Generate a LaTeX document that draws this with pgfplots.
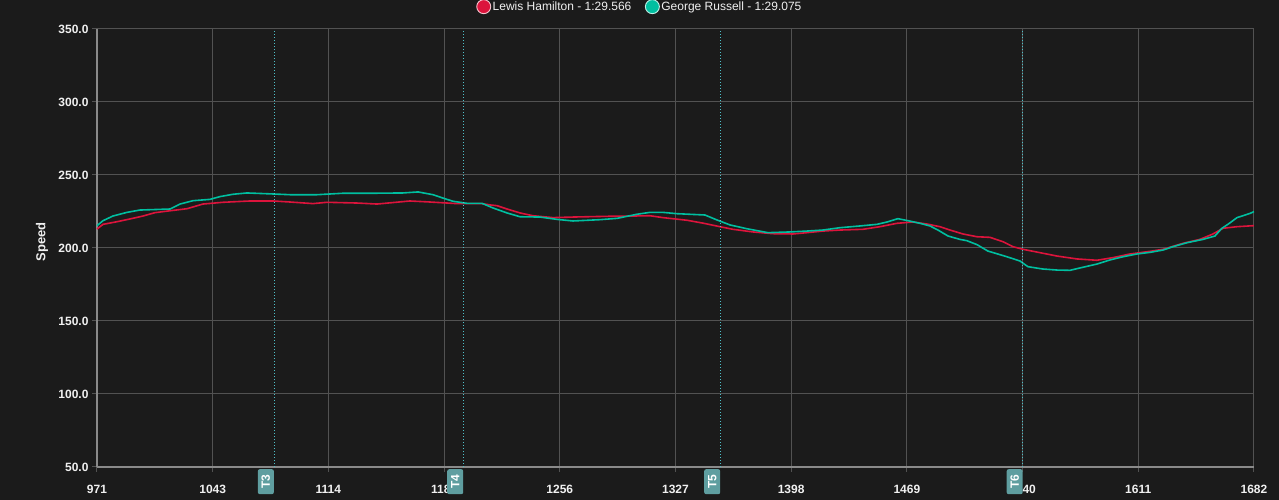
\documentclass[border=0pt]{standalone}
\usepackage{pgfplots}
\pgfplotsset{compat=1.18}
\usepackage{fontspec}
\setmainfont{Liberation Sans}
\definecolor{bg}{HTML}{1B1B1B}
\definecolor{gridc}{HTML}{525252}
\definecolor{axc}{HTML}{8A8A8A}
\definecolor{ham}{HTML}{DC143C}
\definecolor{rus}{HTML}{00BFA0}
\definecolor{tcol}{HTML}{5F9EA0}
\definecolor{tline}{HTML}{4FC0C8}
\definecolor{txt}{HTML}{F0F0F0}

\pgfplotstableread{
d v
971 215.3
974.7 218.7
980.8 221.9
989.4 224.4
997.4 226
1015.9 226.7
1022.0 230.1
1030.0 232.4
1040.4 233.3
1046.6 235.2
1054.6 236.8
1063.2 237.7
1079.2 237
1089.6 236.5
1106.2 236.5
1122.2 237.5
1140.6 237.5
1159.0 237.7
1168.3 238.4
1177.5 236.5
1183.6 234.2
1189.8 232
1198.4 230.6
1207.6 230.6
1214.4 227.4
1223.0 224
1231.0 221.4
1243.2 221.2
1253.7 219.6
1263.5 218.5
1280.1 219.4
1290.6 220.3
1302.8 223.1
1310.8 224.4
1318.8 224.4
1327.4 223.5
1344.6 222.6
1352.0 219.2
1360.0 215.8
1370.4 213.2
1383.3 210.5
1396.9 211
1407.3 211.6
1417.1 212.3
1427.6 213.9
1439.9 215.1
1450.3 216.2
1456.5 217.8
1463.2 220.1
1469.4 218.7
1476.8 216.9
1482.9 215.1
1487.8 212.3
1494.0 208.2
1501.3 205.9
1505.6 205
1511.8 202.3
1518.5 197.9
1530.2 194
1538.2 191.1
1543.1 187.2
1552.3 185.6
1560.9 184.9
1568.9 184.7
1576.9 186.8
1585.5 189
1593.5 191.8
1601.5 194
1610.1 195.9
1618.1 197
1626.1 198.6
1632.2 200.9
1640.8 203.6
1650.7 205.9
1658.0 208.2
1662.3 213.5
1666.0 216.2
1671.6 220.8
1675.2 222.1
1679.6 223.7
1682 224.9
}\russell

\pgfplotstableread{
d v
971 213
974.7 216.2
983.3 218
991.3 219.9
999.3 221.9
1006.6 224.2
1015.9 225.5
1026.3 226.9
1036.1 230.1
1048.4 231.3
1065.0 232.2
1079.2 232.2
1089.6 231.5
1103.7 230.4
1112.3 231.3
1130.8 230.8
1143.1 230.1
1163.3 232.2
1175.6 231.5
1192.2 230.4
1207.6 230.4
1212.5 229.5
1216.8 229
1223.0 226.7
1231.0 224
1238.9 222.1
1251.2 220.8
1263.5 221.2
1284.4 221.7
1300.4 221.9
1310.8 222.1
1318.8 220.8
1333.6 219
1343.5 217
1353.8 214.6
1361.8 212.8
1374.1 211
1386.4 209.8
1398.7 209.6
1407.3 210.5
1417.1 211.6
1427.6 212.3
1441.7 212.8
1452.2 214.6
1462.6 216.9
1472.5 217.8
1481.1 216.4
1489.0 214.6
1495.2 212.3
1503.2 209.6
1511.8 207.7
1519.8 207.3
1527.8 204.3
1533.9 200.9
1540.1 199.1
1550.5 196.8
1560.9 194.5
1573.2 192.5
1585.5 191.6
1595.4 193.4
1605.8 195.9
1618.1 197.7
1626.1 199.1
1638.4 203.2
1648.8 205.9
1656.8 209.6
1663.0 213.5
1671.6 214.6
1682 215.3
}\hamilton

\begin{document}
\begin{tikzpicture}
\fill[bg] (-97pt,-33pt) rectangle (1182pt,467pt);
\begin{axis}[
  at={(0,0)}, anchor=south west,
  scale only axis, width=1157pt, height=438pt,
  xmin=971, xmax=1682, ymin=50, ymax=350,
  xtick={971,1042.1,1113.2,1184.3,1255.4,1326.5,1397.6,1468.7,1539.8,1610.9,1682},
  xticklabels={971,1043,1114,1185,1256,1327,1398,1469,1540,1611,1682},
  ytick={50,100,...,350},
  yticklabel={\pgfmathprintnumber[fixed,fixed zerofill,precision=1]{\tick}},
  /pgf/number format/assume math mode=true,
  grid=major,
  major grid style={gridc, line width=1pt},
  axis line style={axc, line width=1.2pt},
  axis lines*=left,
  tick style={gridc, line width=1pt},
  tick align=outside,
  major tick length=5pt,
  xtick pos=bottom, ytick pos=left,
  ticklabel style={font=\fontsize{12}{14}\selectfont\bfseries, text=txt},
  xticklabel style={yshift=-10pt},
  yticklabel style={xshift=0pt},
  ylabel={Speed},
  ylabel style={font=\fontsize{13}{15}\selectfont\bfseries, text=txt, at={(axis description cs:-0.0475,0.514)}, anchor=center},
  clip=false,
  legend columns=2,
  legend style={at={(axis description cs:0.469,1.051)}, anchor=center, draw=none, fill=none,
    text=txt, font=\fontsize{12}{14}\selectfont,
    /tikz/every even column/.append style={column sep=12pt},
    nodes={inner sep=1.5pt}},
]
\addplot[ham, line width=1.6pt, legend image code/.code={\draw[fill=ham, draw=white!75!ham, line width=0.9pt] (0pt,0pt) circle (7pt);}] table[x=d,y=v]{\hamilton};
\addlegendentry{Lewis Hamilton - 1:29.566}
\addplot[rus, line width=1.6pt, legend image code/.code={\draw[fill=rus, draw=white!75!rus, line width=0.9pt] (0pt,0pt) circle (7pt);}] table[x=d,y=v]{\russell};
\addlegendentry{George Russell - 1:29.075}

\addplot[tline, dotted, line width=1pt, forget plot] coordinates {(1079.8,50) (1079.8,350)};
\addplot[tline, dotted, line width=1pt, forget plot] coordinates {(1196.2,50) (1196.2,350)};
\addplot[tline, dotted, line width=1pt, forget plot] coordinates {(1354.1,50) (1354.1,350)};
\addplot[tline, dotted, line width=1pt, forget plot] coordinates {(1540,50) (1540,350)};

\foreach \p/\l in {1079.8/T3,1196.2/T4,1354.1/T5,1540/T6}{
  \edef\tmp{\noexpand\node[rotate=90, anchor=south east, fill=tcol, rounded corners=2pt, text=white,
     minimum width=25pt, minimum height=16pt, inner sep=1pt,
     font=\noexpand\fontsize{12}{14}\noexpand\selectfont\noexpand\bfseries]
     at ([yshift=-2pt]axis cs:\p,50) {\l};}
  \tmp
}
\end{axis}
\pgfresetboundingbox
\useasboundingbox (-97pt,-33pt) rectangle (1182pt,467pt);
\end{tikzpicture}
\end{document}
